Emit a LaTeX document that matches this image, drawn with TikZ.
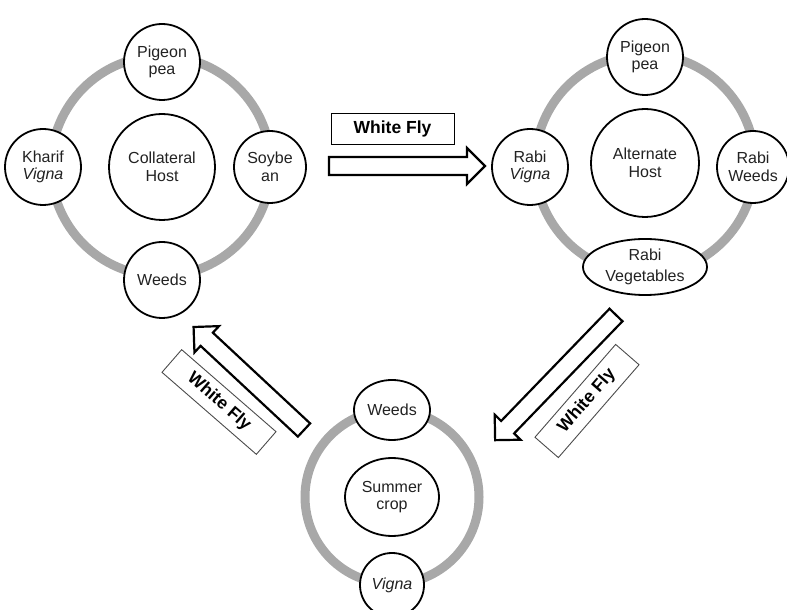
\documentclass[tikz,border=0pt]{standalone}
\usepackage{fontspec}
\setmainfont{Liberation Sans}
\usetikzlibrary{shapes.geometric}
\definecolor{ringgray}{HTML}{A8A8A8}
\definecolor{txt}{HTML}{222222}
\newcommand{\nfs}{\fontsize{16}{17.5}\selectfont}
\newcommand{\lfs}{\fontsize{17.5}{19}\selectfont\bfseries}
\newcommand{\fatarr}[3]{%
  \begin{scope}[shift={(#1)}, rotate=#2]
    \draw[fatarrow] (0,-9) -- (#3-18,-9) -- (#3-18,-18) -- (#3,0) -- (#3-18,18) -- (#3-18,9) -- (0,9) -- cycle;
  \end{scope}}
\tikzset{
  ring/.style={draw=ringgray, line width=9pt},
  hostc/.style={circle, draw, line width=1.8pt, fill=white, inner sep=0pt, align=center, font=\nfs, text=txt},
  hoste/.style={ellipse, draw, line width=1.8pt, fill=white, inner sep=0pt, align=center, font=\nfs, text=txt},
  fatarrow/.style={draw, line width=2.2pt, fill=white, line join=miter},
  flylabel/.style={draw, line width=0.9pt, fill=white, inner sep=0pt, font=\lfs, minimum width=123pt, minimum height=31pt},
}
\begin{document}
\begin{tikzpicture}[x=1pt, y=1pt]
\useasboundingbox (0,0) rectangle (787,610);
% rings
\draw[ring] (161,444) circle (110);
\draw[ring] (645,446) circle (110);
\draw[ring] (392,113) circle (87);
% left cluster
\node[hostc, minimum size=106pt] (coll) at (162,443) {Collateral\\Host};
\node[hostc, minimum size=76pt] (lpp) at (162,548) {Pigeon\\pea};
\node[hostc, minimum size=76pt] (kv) at (43,443) {Kharif\\\textit{Vigna}};
\node[hostc, minimum size=72pt] (soy) at (270,443) {Soybe\\an};
\node[hostc, minimum size=76pt] (lw) at (162,330) {Weeds};
% right cluster
\node[hostc, minimum size=108pt] (alt) at (645,447) {Alternate\\Host};
\node[hostc, minimum size=76pt] (rpp) at (645,553) {Pigeon\\pea};
\node[hostc, minimum size=76pt] (rv) at (530,443) {Rabi\\\textit{Vigna}};
\node[hostc, minimum size=72pt] (rw) at (753,443) {Rabi\\Weeds};
\node[hoste, minimum width=124pt, minimum height=56pt] (rveg) at (645,343) {Rabi\\[4pt]Vegetables};
% bottom cluster
\node[hoste, minimum width=94pt, minimum height=78pt] (sc) at (392,113) {Summer\\crop};
\node[hoste, minimum width=76pt, minimum height=60pt] (bw) at (392,200) {Weeds};
\node[hostc, minimum size=64pt] (bv) at (392,25) {\textit{Vigna}};
% arrows
\coordinate (ta1) at (329,444);
\coordinate (la1) at (304,180);
\coordinate (ra1) at (616,295);
\fatarr{ta1}{0}{156}
\fatarr{la1}{137}{151}
\fatarr{ra1}{226}{174}
% labels
\node[flylabel, line width=1pt] (tl) at (392.5,481) {White Fly};
\node[flylabel, draw=black!70, rotate=-41, minimum width=125pt, minimum height=30pt] (ll) at (219,208) {White Fly};
\node[flylabel, draw=black!70, rotate=49] (rl) at (587,209) {White Fly};
\end{tikzpicture}
\end{document}
